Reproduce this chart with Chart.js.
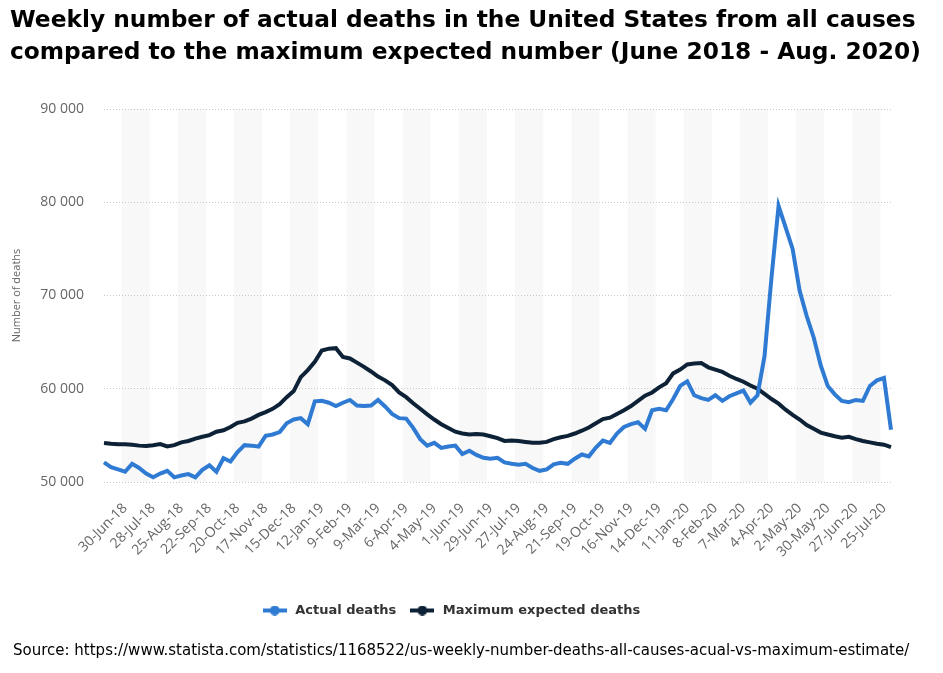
<!DOCTYPE html>
<html><head><meta charset="utf-8">
<script src="https://cdn.jsdelivr.net/npm/chart.js@4.4.0/dist/chart.umd.min.js"></script>
<style>
html,body{margin:0;padding:0;background:#fff;}
#wrap{position:relative;width:943px;height:673px;overflow:hidden;background:#fff;}
#title{position:absolute;left:10px;top:3px;font:bold 23.3px "DejaVu Sans",Verdana,sans-serif;line-height:32px;color:#000;white-space:nowrap;}
#source{position:absolute;left:13px;top:641px;font:15px "DejaVu Sans",Verdana,sans-serif;line-height:18px;color:#000;white-space:nowrap;}
canvas{position:absolute;left:0;top:0;}
</style></head><body>
<div id="wrap">
<canvas id="c" width="943" height="673"></canvas>
<div id="title">Weekly number of actual deaths in the United States from all causes<br>compared to the maximum expected number (June 2018 - Aug. 2020)</div>
<div id="source">Source: https://www.statista.com/statistics/1168522/us-weekly-number-deaths-all-causes-acual-vs-maximum-estimate/</div>
</div>
<script>
const weeks = [
"9-Jun-18","16-Jun-18","23-Jun-18","30-Jun-18","7-Jul-18","14-Jul-18","21-Jul-18","28-Jul-18","4-Aug-18","11-Aug-18",
"18-Aug-18","25-Aug-18","1-Sep-18","8-Sep-18","15-Sep-18","22-Sep-18","29-Sep-18","6-Oct-18","13-Oct-18","20-Oct-18",
"27-Oct-18","3-Nov-18","10-Nov-18","17-Nov-18","24-Nov-18","1-Dec-18","8-Dec-18","15-Dec-18","22-Dec-18","29-Dec-18",
"5-Jan-19","12-Jan-19","19-Jan-19","26-Jan-19","2-Feb-19","9-Feb-19","16-Feb-19","23-Feb-19","2-Mar-19","9-Mar-19",
"16-Mar-19","23-Mar-19","30-Mar-19","6-Apr-19","13-Apr-19","20-Apr-19","27-Apr-19","4-May-19","11-May-19","18-May-19",
"25-May-19","1-Jun-19","8-Jun-19","15-Jun-19","22-Jun-19","29-Jun-19","6-Jul-19","13-Jul-19","20-Jul-19","27-Jul-19",
"3-Aug-19","10-Aug-19","17-Aug-19","24-Aug-19","31-Aug-19","7-Sep-19","14-Sep-19","21-Sep-19","28-Sep-19","5-Oct-19",
"12-Oct-19","19-Oct-19","26-Oct-19","2-Nov-19","9-Nov-19","16-Nov-19","23-Nov-19","30-Nov-19","7-Dec-19","14-Dec-19",
"21-Dec-19","28-Dec-19","4-Jan-20","11-Jan-20","18-Jan-20","25-Jan-20","1-Feb-20","8-Feb-20","15-Feb-20","22-Feb-20",
"29-Feb-20","7-Mar-20","14-Mar-20","21-Mar-20","28-Mar-20","4-Apr-20","11-Apr-20","18-Apr-20","25-Apr-20","2-May-20",
"9-May-20","16-May-20","23-May-20","30-May-20","6-Jun-20","13-Jun-20","20-Jun-20","27-Jun-20","4-Jul-20","11-Jul-20",
"18-Jul-20","25-Jul-20","1-Aug-20"
];
const shownWeekLabels = ["30-Jun-18","28-Jul-18","25-Aug-18","22-Sep-18","20-Oct-18","17-Nov-18","15-Dec-18","12-Jan-19",
"9-Feb-19","9-Mar-19","6-Apr-19","4-May-19","1-Jun-19","29-Jun-19","27-Jul-19","24-Aug-19","21-Sep-19","19-Oct-19",
"16-Nov-19","14-Dec-19","11-Jan-20","8-Feb-20","7-Mar-20","4-Apr-20","2-May-20","30-May-20","27-Jun-20","25-Jul-20"];
const actualDeaths = [
52100,51600,51350,51100,51950,51500,50900,50500,50900,51200,
50500,50700,50850,50500,51300,51800,51100,52550,52200,53200,
53950,53900,53800,54950,55100,55350,56300,56700,56850,56200,
58650,58700,58500,58150,58500,58800,58200,58150,58200,58800,
58100,57300,56850,56800,55800,54600,53900,54200,53650,53800,
53900,53000,53350,52900,52600,52500,52600,52100,51950,51850,
51950,51500,51200,51350,51900,52050,51950,52500,52950,52750,
53700,54450,54200,55200,55900,56200,56400,55700,57700,57850,
57700,58900,60300,60800,59300,59000,58800,59300,58700,59200,
59500,59800,58500,59300,63500,72000,79600,77300,75000,70500,
67800,65500,62500,60300,59400,58700,58550,58800,58700,60300,
60900,61150,55600
];
const maxExpectedDeaths = [
54180,54100,54050,54050,54000,53900,53850,53950,54070,53820,
53950,54250,54400,54650,54850,55030,55390,55550,55900,56350,
56500,56800,57200,57500,57850,58350,59100,59750,61250,62000,
62900,64100,64300,64350,63400,63250,62800,62350,61850,61300,
60900,60400,59600,59100,58450,57850,57250,56700,56200,55800,
55400,55200,55100,55150,55100,54900,54700,54400,54450,54400,
54300,54200,54200,54300,54600,54800,54950,55200,55500,55850,
56300,56750,56900,57300,57700,58150,58700,59250,59600,60150,
60600,61650,62050,62600,62700,62750,62300,62050,61800,61400,
61050,60750,60350,60000,59450,58900,58400,57750,57200,56700,
56100,55700,55300,55100,54900,54750,54850,54600,54400,54250,
54100,54000,53750
];
const yTicks = [50000,60000,70000,80000,90000];
const seriesNames = ["Actual deaths","Maximum expected deaths"];
const seriesColors = ["#2f7bd3","#0d2236"];

function marker(color){
  const c=document.createElement('canvas'); c.width=24; c.height=10;
  const g=c.getContext('2d');
  g.strokeStyle=color; g.lineWidth=4; g.beginPath(); g.moveTo(0,5); g.lineTo(24,5); g.stroke();
  g.fillStyle=color; g.beginPath(); g.arc(12,5,5,0,Math.PI*2); g.fill();
  return c;
}
const markers = seriesColors.map(marker);

const bandPlugin = {
  id:'bands',
  beforeDraw(chart){
    const {ctx, chartArea:a, scales:{x}} = chart;
    ctx.save();
    ctx.fillStyle='#f8f8f8';
    for(let s=2.5; s<weeks.length; s+=8){
      const x0=x.getPixelForValue(s), x1=Math.min(x.getPixelForValue(s+4), a.right);
      ctx.fillRect(x0, a.top, x1-x0, a.bottom-a.top);
    }
    ctx.restore();
  }
};

new Chart(document.getElementById('c'), {
  type:'line',
  data:{
    labels: weeks,
    datasets:[
      {label:seriesNames[0], data:actualDeaths, borderColor:seriesColors[0], backgroundColor:seriesColors[0], borderWidth:4, pointRadius:0, tension:0},
      {label:seriesNames[1], data:maxExpectedDeaths, borderColor:seriesColors[1], backgroundColor:seriesColors[1], borderWidth:4, pointRadius:0, tension:0}
    ]
  },
  plugins:[bandPlugin],
  options:{
    responsive:false,
    animation:false,
    devicePixelRatio:1,
    layout:{padding:{top:109,right:52,bottom:46,left:10}},
    plugins:{
      title:{display:false},
      tooltip:{enabled:false},
      legend:{
        position:'bottom',
        labels:{
          usePointStyle:true,
          pointStyleWidth:28,
          padding:12,
          color:'#333',
          font:{family:'"DejaVu Sans", Verdana, sans-serif', size:13, weight:'bold'},
          generateLabels(chart){
            const items = Chart.defaults.plugins.legend.labels.generateLabels(chart);
            items.forEach((it,i)=>{ it.pointStyle = markers[i]; });
            return items;
          }
        }
      }
    },
    scales:{
      x:{
        type:'category',
        offset:false,
        grid:{display:false, drawTicks:false},
        border:{display:false},
        afterFit(s){ s.height = 110; },
        ticks:{
          autoSkip:false, maxRotation:45, minRotation:45, padding:18,
          color:'#666',
          font:{family:'"Open Sans", sans-serif', size:14},
          callback(v,i){ const l=weeks[i]; return shownWeekLabels.includes(l) ? l : null; }
        }
      },
      y:{
        min:50000, max:90000,
        afterFit(s){ s.width = 94; },
        afterBuildTicks(s){ s.ticks = yTicks.map(v=>({value:v})); },
        grid:{color:'#c8c8c8', lineWidth:1, drawTicks:false},
        border:{display:false, dash:[1,2]},
        title:{display:true, text:'Number of deaths', color:'#666', font:{family:'"Open Sans", sans-serif', size:11}, padding:{top:0,bottom:0}},
        ticks:{
          padding:20, color:'#666',
          font:{family:'"Open Sans", sans-serif', size:14},
          callback(v){ return String(v).replace(/\B(?=(\d{3})+(?!\d))/g,' '); }
        }
      }
    }
  }
});
</script>
</body></html>
